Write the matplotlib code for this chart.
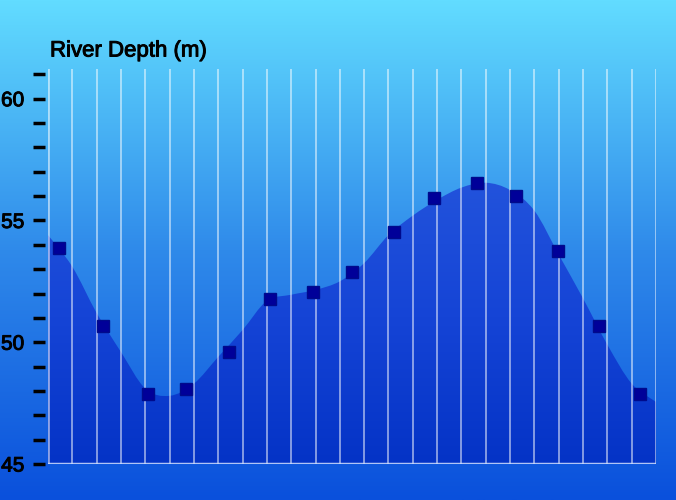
import numpy as np
import matplotlib
matplotlib.use('Agg')
import matplotlib.pyplot as plt
from matplotlib.path import Path
from matplotlib.patches import PathPatch
from matplotlib.colors import LinearSegmentedColormap
import matplotlib.patheffects as pe

# marker positions (in grid-line units, 0..25) and depth values
marker_pos = [0.45, 2.26, 4.11, 5.67, 7.44, 9.13, 10.9, 12.5, 14.23, 15.87,
              17.64, 19.24, 20.97, 22.66, 24.34]
depth = [53.87, 50.67, 47.87, 48.08, 49.6, 51.78, 52.06, 52.88, 54.53, 55.92,
         56.54, 56.0, 53.75, 50.67, 47.87]

# smoothed area outline, one value per vertical grid line
curve_vals = [54.4, 53.1, 51.2, 49.6, 48.1, 47.8, 48.3, 49.4, 50.5, 51.7,
              51.95, 52.15, 52.5, 53.25, 54.4, 55.2, 55.85, 56.35, 56.55, 56.25,
              55.4, 53.6, 51.8, 49.9, 48.3, 47.55]

y_major = [45, 50, 55, 60]
y_min, y_max = 45, 61.22

fig = plt.figure(figsize=(6.76, 5), dpi=100)

# background gradient
bg = fig.add_axes([0, 0, 1, 1])
bg_cmap = LinearSegmentedColormap.from_list('bg', ['#0a50dc', '#2f8aea', '#62dcff'])
bg.imshow(np.linspace(0, 1, 256).reshape(-1, 1), cmap=bg_cmap, aspect='auto',
          extent=[0, 1, 0, 1], origin='lower')
bg.axis('off')

ax = fig.add_axes([48/676, 36/500, 608/676, 395/500])
ax.patch.set_alpha(0)
ax.set_xlim(0, 25)
ax.set_ylim(y_min, y_max)

# smooth path through curve points (catmull-rom -> bezier)
xs = np.arange(len(curve_vals), dtype=float)
ys = np.array(curve_vals)
verts = [(xs[0], y_min), (xs[0], ys[0])]
codes = [Path.MOVETO, Path.LINETO]
n = len(xs)
for i in range(n - 1):
    p0 = (xs[max(i-1, 0)], ys[max(i-1, 0)])
    p1 = (xs[i], ys[i])
    p2 = (xs[i+1], ys[i+1])
    p3 = (xs[min(i+2, n-1)], ys[min(i+2, n-1)])
    c1 = (p1[0] + (p2[0]-p0[0])/6, p1[1] + (p2[1]-p0[1])/6)
    c2 = (p2[0] - (p3[0]-p1[0])/6, p2[1] - (p3[1]-p1[1])/6)
    verts += [c1, c2, p2]
    codes += [Path.CURVE4]*3
verts += [(xs[-1], y_min), (xs[0], y_min)]
codes += [Path.LINETO, Path.CLOSEPOLY]
area = PathPatch(Path(verts, codes), facecolor='none', edgecolor='none')
ax.add_patch(area)

fill_cmap = LinearSegmentedColormap.from_list('fill', ['#0433c6', '#1544d6', '#2354dc'])
im = ax.imshow(np.linspace(0, 1, 256).reshape(-1, 1), cmap=fill_cmap, aspect='auto',
               extent=[0, 25, y_min, 57], origin='lower', zorder=1)
im.set_clip_path(area)

# vertical grid lines
for gx in range(26):
    lw = 2 if gx in (0, 25) else 1.3
    ax.axvline(gx, color='white', alpha=0.55, lw=lw, zorder=2)
ax.axhline(y_min, color='#d0e0ff', alpha=0.85, lw=2.5, zorder=3)

ax.plot(marker_pos, depth, 's', color='#000099', markersize=8.5,
        markeredgecolor='#000a8c', zorder=4, clip_on=False)

for s in ['top', 'right', 'bottom', 'left']:
    ax.spines[s].set_visible(False)
ax.spines['left'].set_position(('outward', 2))
ax.set_xticks([])
ax.set_yticks(y_major)
ax.set_yticks(np.arange(46, 62), minor=True)
bold_fx = [pe.withStroke(linewidth=0.7, foreground='black')]
ax.set_yticklabels([str(v) for v in y_major], fontsize=15,
                   family='Liberation Sans', path_effects=bold_fx)
ax.tick_params(axis='y', which='both', direction='out', length=9, width=2.5,
               color='black', pad=6)

fig.text(50/676, 1 - 51/500, 'River Depth (m)', fontsize=16,
         family='Liberation Sans', va='center', ha='left', path_effects=bold_fx)

fig.savefig('out.png', dpi=100)
